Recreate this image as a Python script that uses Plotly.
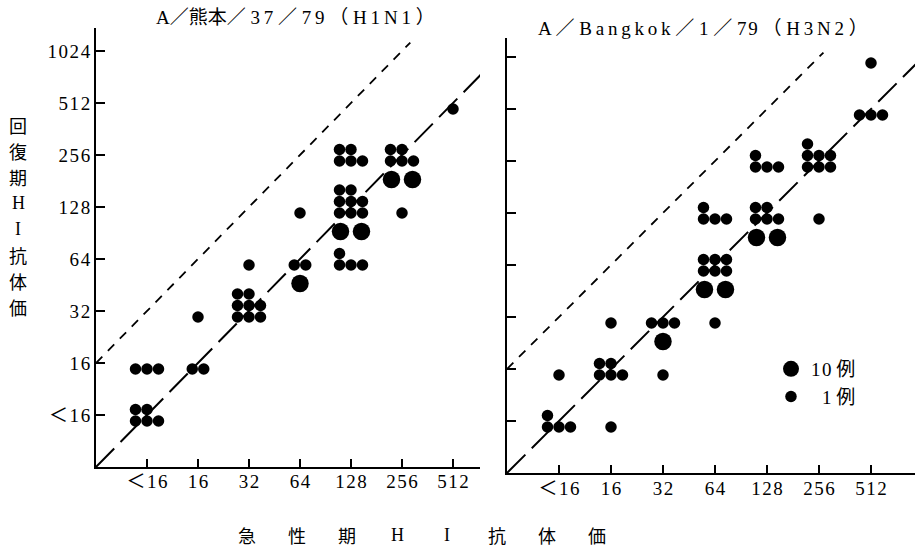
import plotly.graph_objects as go

# Titer categories on both axes (log2 steps); index 0 is "<16"
TITERS = ["＜16", "16", "32", "64", "128", "256", "512", "1024"]

# A/Kumamoto/37/79 (H1N1): acute index, convalescent index, number of cases
h1n1_acute = [0, 0, 1, 1, 2, 2, 3, 3, 4, 4, 4, 5, 5, 6]
h1n1_conv = [0, 1, 1, 2, 2, 3, 3, 4, 3, 4, 5, 4, 5, 6]
h1n1_cases = [5, 3, 2, 1, 8, 1, 12, 1, 4, 28, 5, 1, 25, 1]

# A/Bangkok/1/79 (H3N2)
h3n2_acute = [0, 0, 1, 1, 1, 2, 2, 3, 3, 3, 4, 4, 5, 5, 6, 6]
h3n2_conv = [0, 1, 0, 1, 2, 1, 2, 2, 3, 4, 4, 5, 4, 5, 6, 7]
h3n2_cases = [4, 1, 1, 5, 1, 1, 13, 1, 26, 4, 25, 4, 1, 7, 3, 1]

W, H = 915, 551
SERIF = "Liberation Serif, DejaVu Serif, Noto Sans CJK JP, serif"
CJK = "Noto Sans CJK JP, Liberation Serif, serif"
HS = "\u200a"  # hair space for the wide letter spacing of the typeset labels
TS = "\u2009"  # thin space


def spaced(s, sep=HS):
    return sep.join(s)


# Panel geometry in pixels: (left, right, top, bottom)
PANELS = {
    "left": dict(px=(96, 480, 28, 467), xstep=51.0, ystep=52.0),
    "right": dict(px=(507, 915, 38, 473), xstep=52.0, ystep=52.0),
}

SMALL_SIZE, BIG_SIZE = 11.5, 17.5
SMALL_STEP, BIG_STEP = 11.5, 21.0
ROW_DROP, BIG_DROP = 6.0, 18.5


def cluster(gx, gy, n, xstep, ystep):
    """Dots for one titer pair: 1 case per small dot, 10 per large dot."""
    n_big, n_small = divmod(n, 10)
    sx, sy, bx, by = [], [], [], []
    ncols = min(3, n_small)
    base = gy - ROW_DROP / ystep
    for k in range(n_small):
        r, c = divmod(k, 3)
        sx.append(gx + (c - (ncols - 1) / 2) * SMALL_STEP / xstep)
        sy.append(base + r * SMALL_STEP / ystep)
    ybig = base - (BIG_DROP / ystep if n_small else 0)
    for k in range(n_big):
        bx.append(gx + (k - (n_big - 1) / 2) * BIG_STEP / xstep)
        by.append(ybig)
    return sx, sy, bx, by


fig = go.Figure()


def add_panel(name, acute, conv, cases, xa, ya, legend):
    p = PANELS[name]
    sx, sy, bx, by = [], [], [], []
    for a, c, n in zip(acute, conv, cases):
        s = cluster(a, c, n, p["xstep"], p["ystep"])
        sx += s[0]; sy += s[1]; bx += s[2]; by += s[3]
    l, r, t, b = p["px"]
    xmax = (r - l) / p["xstep"] - 1
    ymax = (b - t) / p["ystep"] - 1
    # equal titer line and four-fold rise line
    fig.add_trace(go.Scatter(x=[-1, xmax + 1], y=[-1, xmax + 1], mode="lines",
                             line=dict(color="black", width=2, dash="26px,9px"),
                             xaxis=xa, yaxis=ya, showlegend=False, hoverinfo="skip"))
    fig.add_trace(go.Scatter(x=[-1, ymax - 2 - 0.28], y=[1, ymax - 0.28], mode="lines",
                             line=dict(color="black", width=1.8, dash="9px,8px"),
                             xaxis=xa, yaxis=ya, showlegend=False, hoverinfo="skip"))
    fig.add_trace(go.Scatter(x=bx, y=by, mode="markers", name=spaced("10") + " 例",
                             marker=dict(color="black", size=BIG_SIZE, line=dict(width=0)),
                             xaxis=xa, yaxis=ya, showlegend=legend, legendgroup="big",
                             cliponaxis=False))
    fig.add_trace(go.Scatter(x=sx, y=sy, mode="markers", name="\u2007\u200a1 例",
                             marker=dict(color="black", size=SMALL_SIZE, line=dict(width=0)),
                             xaxis=xa, yaxis=ya, showlegend=legend, legendgroup="small",
                             cliponaxis=False))
    return xmax, ymax


lx, ly = add_panel("left", h1n1_acute, h1n1_conv, h1n1_cases, "x", "y", False)
rx, ry = add_panel("right", h3n2_acute, h3n2_conv, h3n2_cases, "x2", "y2", True)

TICKTEXT = [spaced(t) for t in TITERS]


def axis_common():
    return dict(showgrid=False, zeroline=False, showline=True, linecolor="black",
                linewidth=2, ticks="inside", tickcolor="black", tickwidth=1.5,
                tickfont=dict(family=SERIF, size=19, color="black"))


def xdom(name):
    l, r, t, b = PANELS[name]["px"]
    return [l / W, r / W]


def ydom(name):
    l, r, t, b = PANELS[name]["px"]
    return [(H - b) / H, (H - t) / H]


fig.update_layout(
    width=W, height=H, margin=dict(l=0, r=0, t=0, b=0),
    paper_bgcolor="white", plot_bgcolor="white",
    xaxis=dict(**axis_common(), domain=xdom("left"), range=[-1, lx], anchor="y",
               tickvals=list(range(7)), ticktext=TICKTEXT[:7], ticklen=8, ticklabelstandoff=-4),
    yaxis=dict(**axis_common(), domain=ydom("left"), range=[-1, ly], anchor="x",
               tickvals=list(range(8)), ticktext=TICKTEXT, ticklen=9),
    xaxis2=dict(**axis_common(), domain=xdom("right"), range=[-1, rx], anchor="y2",
                tickvals=list(range(7)), ticktext=TICKTEXT[:7], ticklen=8, ticklabelstandoff=-3),
    yaxis2=dict(**axis_common(), domain=ydom("right"), range=[-1, ry], anchor="x2",
                tickvals=list(range(8)), ticktext=[""] * 8, ticklen=9),
    legend=dict(x=771 / W, y=1 - 350 / H, xanchor="left", yanchor="top",
                font=dict(family=SERIF, size=19, color="black"),
                bgcolor="rgba(0,0,0,0)", tracegroupgap=0, itemsizing="trace"),
    showlegend=True,
)

ann = []
# panel titles
ann.append(dict(text="A／熊本／ " + spaced("37", TS) + " ／ " + spaced("79", TS) + " （ "
                + spaced("H1N1", TS) + " ）", x=295 / W, y=1 - 18 / H))
ann.append(dict(text="A ／ " + spaced("Bangkok", TS) + " ／ 1 ／ " + spaced("79") + " （ "
                + spaced("H3N2", TS) + " ）", x=703 / W, y=1 - 28 / H))
for a in ann:
    a.update(xref="paper", yref="paper", showarrow=False, xanchor="center",
             yanchor="middle", font=dict(family=SERIF, size=19, color="black"))

# vertical y-axis title, one character per line
for i, ch in enumerate("回復期HI抗体価"):
    ann.append(dict(text=ch, x=18 / W, y=1 - (125 + 26 * i) / H, xref="paper", yref="paper",
                    showarrow=False, xanchor="center", yanchor="middle",
                    font=dict(family=CJK if ch not in "HI" else SERIF, size=18, color="black")))

# spaced-out x-axis title
for i, ch in enumerate("急性期HI抗体価"):
    ann.append(dict(text=ch, x=(247 + 50 * i) / W, y=1 - 535 / H, xref="paper", yref="paper",
                    showarrow=False, xanchor="center", yanchor="middle",
                    font=dict(family=CJK if ch not in "HI" else SERIF, size=18, color="black")))

fig.update_layout(annotations=ann)
fig.write_html("out.html")
